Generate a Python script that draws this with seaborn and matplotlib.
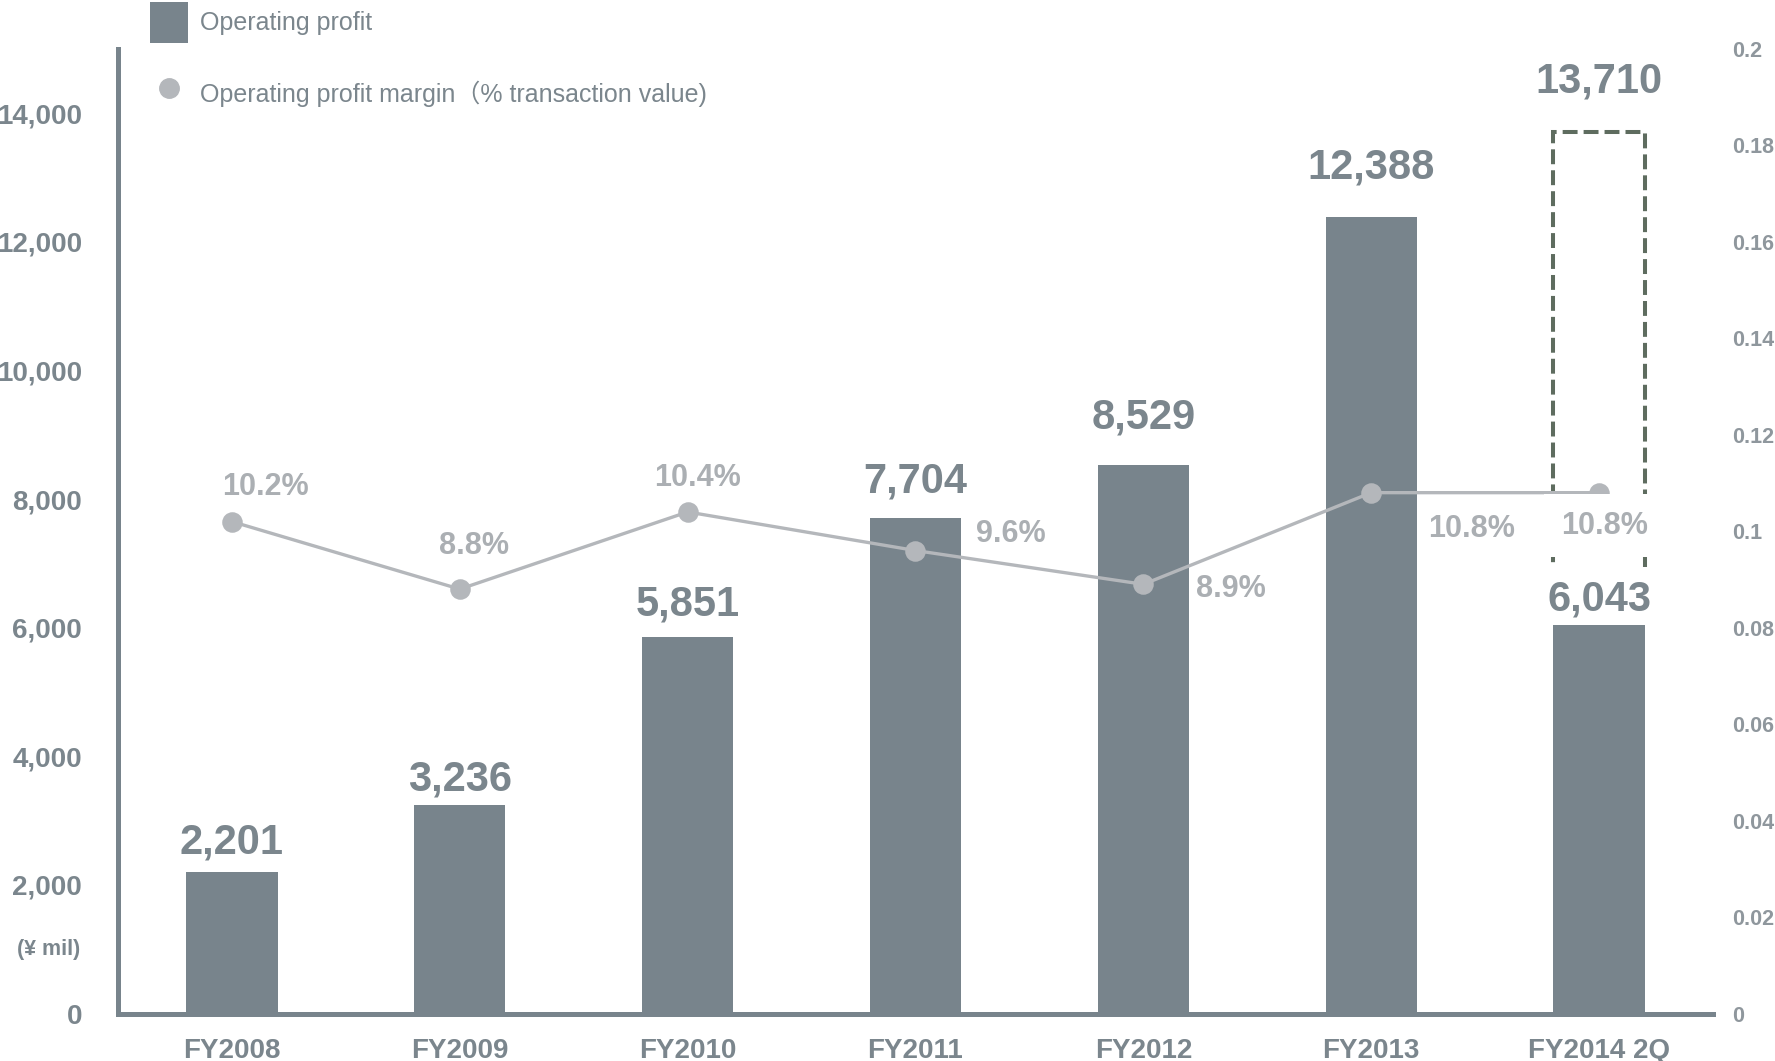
import matplotlib
matplotlib.use("Agg")
import matplotlib.pyplot as plt
from matplotlib.patches import Patch
from matplotlib.lines import Line2D
from matplotlib.ticker import FuncFormatter
import seaborn as sns
import pandas as pd

# ---- data -------------------------------------------------------------
categories = ["FY2008", "FY2009", "FY2010", "FY2011", "FY2012", "FY2013", "FY2014 2Q"]
operating_profit = [2201, 3236, 5851, 7704, 8529, 12388, 6043]
profit_margin = [0.102, 0.088, 0.104, 0.096, 0.089, 0.108, 0.108]
fy2014_forecast = 13710

left_ticks = [0, 2000, 4000, 6000, 8000, 10000, 12000, 14000]
right_ticks = [0, 0.02, 0.04, 0.06, 0.08, 0.1, 0.12, 0.14, 0.16, 0.18, 0.2]

# ---- styling ----------------------------------------------------------
BAR = "#78848c"
TEXT = "#7b868d"
LINE = "#b4b7bb"
MARGIN_TEXT = "#abafb3"
RIGHT_TEXT = "#8f979d"
DASH = "#5e6c5f"
BAR_WIDTH = 0.4

sns.set_style("white")
plt.rcParams["font.family"] = ["Liberation Sans", "Noto Sans CJK JP", "DejaVu Sans"]

W, H = 1775, 1061
fig = plt.figure(figsize=(W / 100, H / 100), dpi=100)
ax = fig.add_axes([118 / W, 1 - 1013.5 / H, (1713 - 118) / W, (1013.5 - 49) / H])

df = pd.DataFrame({"category": categories, "profit": operating_profit, "margin": profit_margin})

# bars
sns.barplot(data=df, x="category", y="profit", color=BAR, saturation=1,
            width=BAR_WIDTH, linewidth=0, ax=ax, zorder=2)

# dashed open outline for the full-year forecast, rising from the half-year bar
last = len(categories) - 1
half_year = operating_profit[last]
x0, x1 = last - BAR_WIDTH / 2, last + BAR_WIDTH / 2
ax.plot([x0, x0, x1, x1], [half_year, fy2014_forecast, fy2014_forecast, half_year],
        color=DASH, linewidth=2.9, linestyle=(0, (3.7, 1.5)),
        solid_joinstyle="miter", dash_joinstyle="miter", zorder=1)

ax.set_xlim(-0.5, len(categories) - 0.5)
ax.set_ylim(0, 15000)
ax.set_yticks(left_ticks)
ax.yaxis.set_major_formatter(FuncFormatter(lambda v, p: f"{int(v):,}"))
ax.set_xlabel("")
ax.set_ylabel("")
ax.tick_params(axis="y", length=0, pad=26, labelsize=20, labelcolor=TEXT)
ax.tick_params(axis="x", length=0, pad=17.5, labelsize=20, labelcolor=TEXT)
for lbl in ax.get_xticklabels() + ax.get_yticklabels():
    lbl.set_fontweight("bold")
for side in ("top", "right"):
    ax.spines[side].set_visible(False)
for side in ("left", "bottom"):
    ax.spines[side].set_color(BAR)
    ax.spines[side].set_linewidth(3.6)
    ax.spines[side].set_capstyle("projecting")

# value labels above bars
bar_offsets = [29, 26, 33, 37, 48, 49, 25]
for i, (v, off) in enumerate(zip(operating_profit, bar_offsets)):
    if i == last:
        ax.annotate(f"{v:,}", xy=(i, v), xytext=(0, off), textcoords="offset pixels",
                    ha="center", va="center", fontsize=30, fontweight="bold", color=TEXT,
                    bbox=dict(boxstyle="square,pad=0.3", fc="white", ec="none"), zorder=1.5)
    else:
        ax.annotate(f"{v:,}", xy=(i, v), xytext=(0, off), textcoords="offset pixels",
                    ha="center", va="center", fontsize=30, fontweight="bold",
                    color=TEXT, zorder=3)
ax.annotate(f"{fy2014_forecast:,}", xy=(last, fy2014_forecast), xytext=(0, 50),
            textcoords="offset pixels", ha="center", va="center", fontsize=30,
            fontweight="bold", color=TEXT, zorder=3)

# margin line on the secondary axis
ax2 = ax.twinx()
sns.pointplot(data=df, x="category", y="margin", color=LINE, markers="o",
              markersize=13, linewidth=2.4, errorbar=None, ax=ax2)
ax2.set_xlim(-0.5, len(categories) - 0.5)
ax2.set_ylim(0, 0.2)
ax2.set_yticks(right_ticks)
ax2.yaxis.set_major_formatter(FuncFormatter(lambda v, p: f"{v:g}"))
ax2.set_ylabel("")
ax2.set_xlabel("")
ax2.tick_params(axis="y", length=0, pad=14, labelsize=15.5, labelcolor=RIGHT_TEXT)
for lbl in ax2.get_yticklabels():
    lbl.set_fontweight("bold")
for s in ax2.spines.values():
    s.set_visible(False)

margin_offsets = [(34, 35), (14, 43), (10, 34), (95, 17), (88, -5), (100, -36), (5, -33)]
for i, (m, (dx, dy)) in enumerate(zip(profit_margin, margin_offsets)):
    bbox = dict(boxstyle="square,pad=0.55", fc="white", ec="none") if i == last else None
    ax2.annotate(f"{m * 100:.1f}%", xy=(i, m), xytext=(dx, dy), textcoords="offset pixels",
                 ha="center", va="center", fontsize=22, fontweight="bold",
                 color=MARGIN_TEXT, bbox=bbox, zorder=5)

# unit label
fig.text(80 / W, 1 - 950 / H, "(¥ mil)", ha="right", va="center",
         fontsize=15.5, fontweight="bold", color=TEXT)

# legend
handles = [
    Patch(facecolor=BAR, edgecolor="none"),
    Line2D([], [], linestyle="none", marker="o", markersize=14,
           markerfacecolor=LINE, markeredgecolor=LINE),
]
labels = ["Operating profit", "Operating profit margin（% transaction value)"]
fig.legend(handles, labels, loc="upper left", bbox_to_anchor=(150 / W, 1 - 2 / H),
           frameon=False, fontsize=18, labelcolor=TEXT, handlelength=1.52,
           handleheight=2.15, handletextpad=0.48, labelspacing=1.22,
           borderpad=0, borderaxespad=0)

fig.savefig("out.png", dpi=100, facecolor="white")
